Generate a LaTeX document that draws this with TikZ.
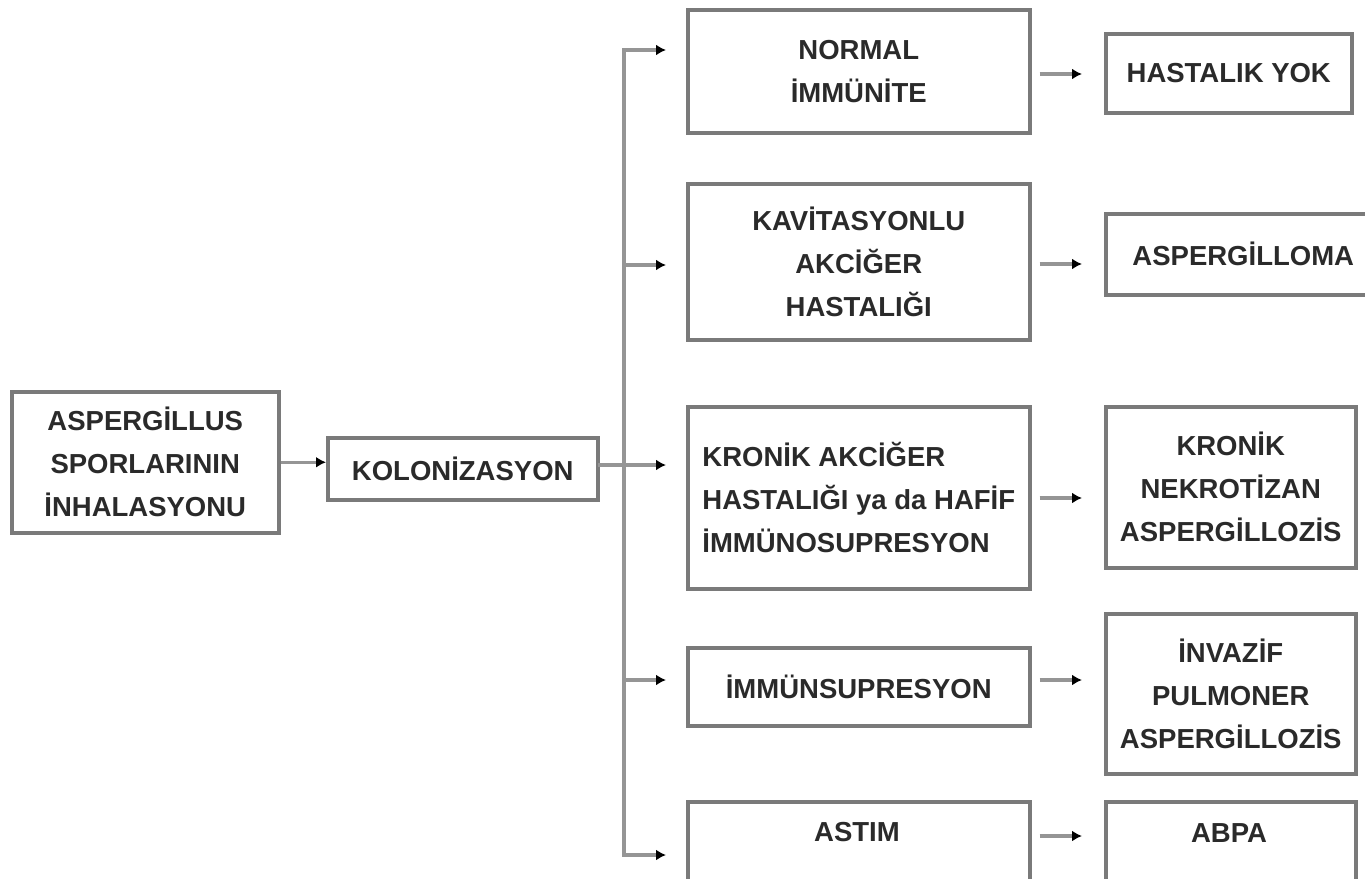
\documentclass[tikz,border=0pt]{standalone}
\usepackage{fontspec}
\setmainfont{Liberation Sans}
\usetikzlibrary{arrows.meta}
\definecolor{boxgray}{HTML}{7A7A7A}
\definecolor{linegray}{HTML}{959595}
\definecolor{txtcol}{HTML}{2A2A2A}
\begin{document}
\begin{tikzpicture}[x=1pt,y=-1pt,
  box/.style={draw=boxgray, line width=3.5pt, rectangle, inner sep=0pt, align=center,
    font=\fontsize{27.5}{43}\selectfont\bfseries, text=txtcol, anchor=north west},
  txt/.style={inner sep=0pt, font=\fontsize{27.5}{43}\selectfont\bfseries, text=txtcol},
  conn/.style={draw=linegray, line width=3.5pt, line cap=rect},
  arr/.style={draw=linegray, line width=3.5pt, -{Latex[length=10pt,width=11pt,color=black]}},
]
\useasboundingbox (0,0) rectangle (1365,878);
\clip (0,0) rectangle (1365,878);
% left
\node[box, minimum width=267, minimum height=141] (spor) at (10,390) {ASPERGİLLUS\\SPORLARININ\\İNHALASYONU};
\node[box, minimum width=270, minimum height=62] (kol) at (326,436) {KOLONİZASYON};
% middle column
\node[box, minimum width=342, minimum height=123] (n1) at (686,8) {NORMAL\\İMMÜNİTE};
\node[box, minimum width=342, minimum height=156] (n2) at (686,182) {KAVİTASYONLU\\AKCİĞER\\HASTALIĞI};
\node[box, minimum width=342, minimum height=182, align=left] (n3) at (686,405) {KRONİK AKCİĞER\\HASTALIĞI ya da HAFİF\\İMMÜNOSUPRESYON};
\node[box, minimum width=342, minimum height=78] (n4) at (686,646) {İMMÜNSUPRESYON};
\node[box, minimum width=342, minimum height=95] (n5) at (686,800) {};
\node[txt] (n5t) at (857,832) {ASTIM};
% right column
\node[box, minimum width=246, minimum height=79] (r1) at (1104,32) {HASTALIK YOK};
\node[box, minimum width=275, minimum height=81] (r2) at (1104,212) {ASPERGİLLOMA};
\node[box, minimum width=250, minimum height=161] (r3) at (1104,405) {KRONİK\\NEKROTİZAN\\ASPERGİLLOZİS};
\node[box, minimum width=250, minimum height=160] (r4) at (1104,612) {İNVAZİF\\PULMONER\\ASPERGİLLOZİS};
\node[box, minimum width=250, minimum height=95] (r5) at (1104,800) {};
\node[txt] (r5t) at (1229,833) {ABPA};
% connectors
\draw[arr] (spor.east) -- (spor.east -| kol.west);
\coordinate (t1) at (624,50);
\coordinate (t2) at (624,265);
\coordinate (t3) at (624,465);
\coordinate (t4) at (624,680);
\coordinate (t5) at (624,855);
\draw[conn] (kol.east |- t3) -- (t3);
\draw[conn] (t1) -- (t5);
\foreach \t/\n in {t1/n1,t2/n2,t3/n3,t4/n4,t5/n5}
  \draw[arr, shorten >=20pt] (\t) -- (\t -| \n.west);
\coordinate (c1) at (0,74);
\coordinate (c2) at (0,264);
\coordinate (c3) at (0,498);
\coordinate (c4) at (0,680);
\coordinate (c5) at (0,836);
\foreach \c/\a/\b in {c1/n1/r1,c2/n2/r2,c3/n3/r3,c4/n4/r4,c5/n5/r5}
  \draw[arr, shorten <=8pt, shorten >=22pt] (\c -| \a.east) -- (\c -| \b.west);
\end{tikzpicture}
\end{document}
